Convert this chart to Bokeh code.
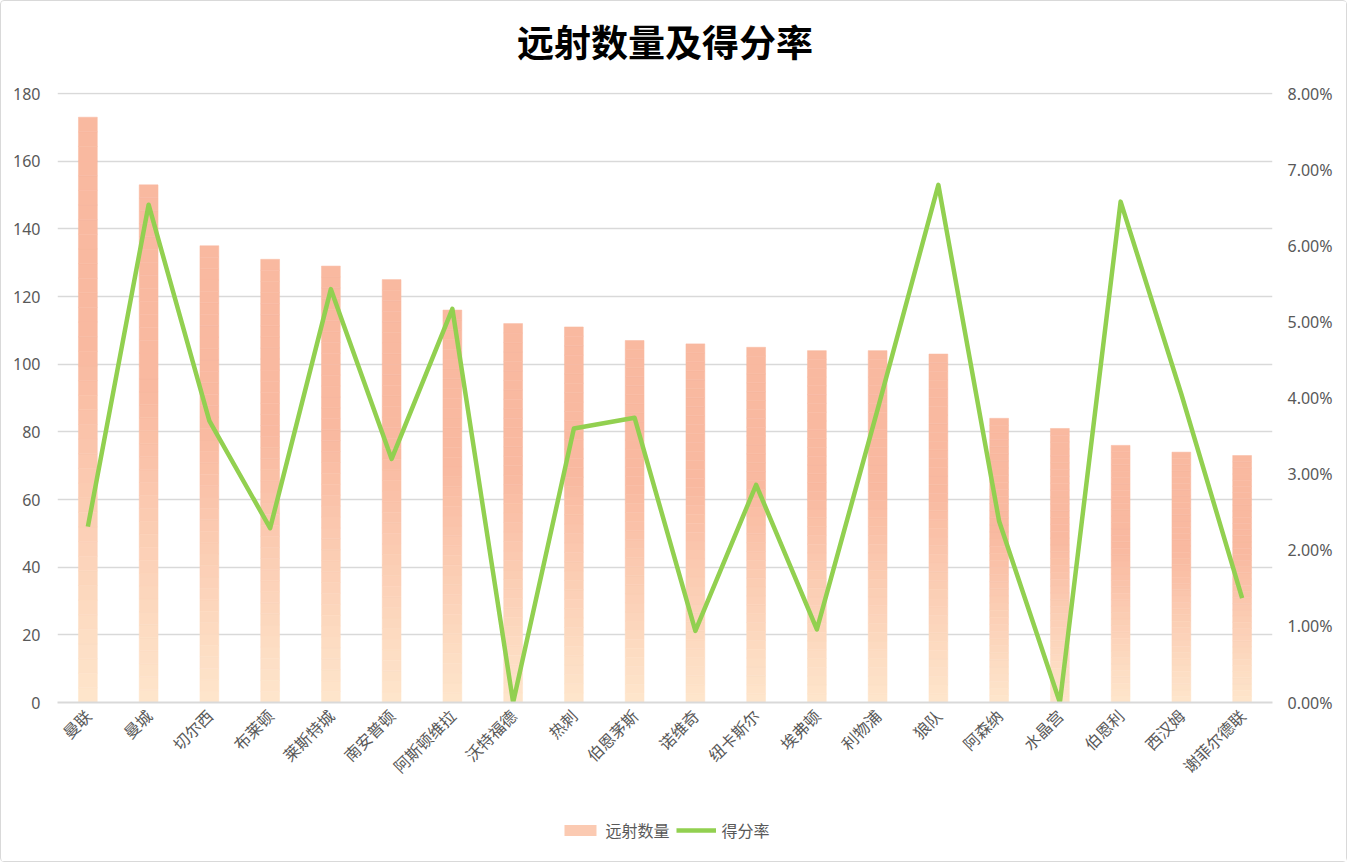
import numpy as np
from bokeh.plotting import figure
from bokeh.layouts import column
from bokeh.models import (ColumnDataSource, Range1d, LinearAxis, SingleIntervalTicker,
                          NumeralTickFormatter, Legend, LegendItem, FactorRange, Label)
from bokeh.embed import file_html
from bokeh.resources import INLINE

title_text = "远射数量及得分率"
teams = ["曼联", "曼城", "切尔西", "布莱顿", "莱斯特城", "南安普顿", "阿斯顿维拉", "沃特福德",
         "热刺", "伯恩茅斯", "诺维奇", "纽卡斯尔", "埃弗顿", "利物浦", "狼队", "阿森纳",
         "水晶宫", "伯恩利", "西汉姆", "谢菲尔德联"]
long_shots = [173, 153, 135, 131, 129, 125, 116, 112, 111, 107, 106, 105, 104, 104, 103,
              84, 81, 76, 74, 73]
score_rate = [0.0231, 0.0654, 0.0370, 0.0229, 0.0543, 0.0320, 0.0517, 0.0, 0.0360, 0.0374,
              0.0094, 0.0286, 0.0096, 0.0385, 0.0680, 0.0238, 0.0, 0.0658, 0.0405, 0.0137]

FONT = "Noto Sans CJK SC"
TXT = "#595959"
GRID = "#D9D9D9"
BAR_TOP = "#F9B9A0"
BAR_BOT = "#FEE6CC"
BAR_MID = "#FBCAB2"
LINE_C = "#92D050"
W = 1345

# ---------- title strip ----------
tf = figure(width=W, height=78, x_range=Range1d(0, 1), y_range=Range1d(0, 1),
            output_backend="svg", toolbar_location=None,
            min_border=0, min_border_left=0, min_border_right=0, min_border_top=0,
            min_border_bottom=0)
tf.axis.visible = False
tf.grid.visible = False
tf.outline_line_color = None
tf.background_fill_color = "white"
tf.border_fill_color = "white"
tf.add_layout(Label(x=0.5, y=0.5, text=title_text, text_align="center",
                    text_baseline="middle", text_font=FONT, text_font_size="37px",
                    text_font_style="bold", text_color="black"))

# ---------- main chart ----------
Y_MAX = 180.3  # tiny headroom so the 180 gridline is visible
p = figure(frame_width=1215, frame_height=610, x_range=FactorRange(*teams, range_padding=0),
           y_range=Range1d(0, Y_MAX), output_backend="svg", toolbar_location=None,
           min_border_left=56, min_border_right=74, min_border_top=13, min_border_bottom=97)
p.outline_line_color = None
p.background_fill_color = "white"
p.border_fill_color = "white"

p.extra_y_ranges = {"rate": Range1d(0, 0.08 * Y_MAX / 180)}

# gradient bars built as stacked slices of each bar
top_c = np.array([int(BAR_TOP[i:i + 2], 16) for i in (1, 3, 5)], dtype=float)
bot_c = np.array([int(BAR_BOT[i:i + 2], 16) for i in (1, 3, 5)], dtype=float)
K = 40
xs, b, t, cols = [], [], [], []
for team, v in zip(teams, long_shots):
    for j in range(K):
        f = (j + 0.5) / K
        g = min(f / 0.6, 1.0)
        c = bot_c + (top_c - bot_c) * g
        xs.append(team)
        b.append(v * j / K)
        t.append(v * (j + 1) / K)
        cols.append("#%02x%02x%02x" % tuple(int(round(x)) for x in c))
bar_src = ColumnDataSource(dict(x=xs, bottom=b, top=t, color=cols))
p.vbar(x="x", bottom="bottom", top="top", width=0.31, source=bar_src,
       fill_color="color", line_color="color", line_width=0.5)

line_src = ColumnDataSource(dict(x=teams, y=score_rate))
p.line(x="x", y="y", source=line_src, y_range_name="rate",
       line_color=LINE_C, line_width=4.5, line_join="round")

ya = p.yaxis[0]
ya.ticker = SingleIntervalTicker(interval=20)
right = LinearAxis(y_range_name="rate", ticker=SingleIntervalTicker(interval=0.01),
                   formatter=NumeralTickFormatter(format="0.00%"))
p.add_layout(right, "right")
for ax, so in [(ya, 13), (right, 11)]:
    ax.axis_line_color = None
    ax.major_tick_line_color = None
    ax.minor_tick_line_color = None
    ax.major_tick_out = 0
    ax.major_tick_in = 0
    ax.major_label_text_font = "Noto Sans"
    ax.major_label_text_font_size = "16px"
    ax.major_label_text_color = TXT
    ax.major_label_standoff = so

xa = p.xaxis[0]
xa.major_label_orientation = np.pi / 4
xa.axis_line_color = GRID
xa.axis_line_width = 2
xa.major_tick_line_color = None
xa.minor_tick_line_color = None
xa.major_tick_out = 0
xa.major_tick_in = 0
xa.major_label_text_font = FONT
xa.major_label_text_font_size = "16px"
xa.major_label_text_color = TXT
xa.major_label_standoff = 10

p.xgrid.grid_line_color = None
p.ygrid.grid_line_color = GRID
p.ygrid.grid_line_width = 1.5

# ---------- legend strip ----------
lg = figure(width=W, height=62, x_range=FactorRange(*teams), y_range=Range1d(0, 1),
            output_backend="svg", toolbar_location=None,
            min_border=0, min_border_left=0, min_border_right=0, min_border_top=0,
            min_border_bottom=0)
lg.axis.visible = False
lg.grid.visible = False
lg.outline_line_color = None
lg.background_fill_color = "white"
lg.border_fill_color = "white"
lb = lg.vbar(x=teams, top=long_shots, width=0.31, fill_color=BAR_MID, line_color=None,
             visible=False)
ll = lg.line(x=teams, y=score_rate, line_color=LINE_C, line_width=4.5, visible=False)
legend = Legend(items=[LegendItem(label="远射数量", renderers=[lb]),
                       LegendItem(label="得分率", renderers=[ll])],
                orientation="horizontal", location="center",
                label_text_font=FONT, label_text_font_size="16px", label_text_color=TXT,
                border_line_color=None, background_fill_alpha=0, inactive_fill_alpha=0,
                glyph_width=40, glyph_height=14, spacing=6, label_standoff=6,
                margin=0, padding=4)
lg.add_layout(legend, "center")

layout = column(tf, p, lg, spacing=0)
layout.styles = {"border": "1px solid #D9D9D9", "border-radius": "4px",
                 "background-color": "white"}

open("out.html", "w").write(file_html(layout, INLINE))
